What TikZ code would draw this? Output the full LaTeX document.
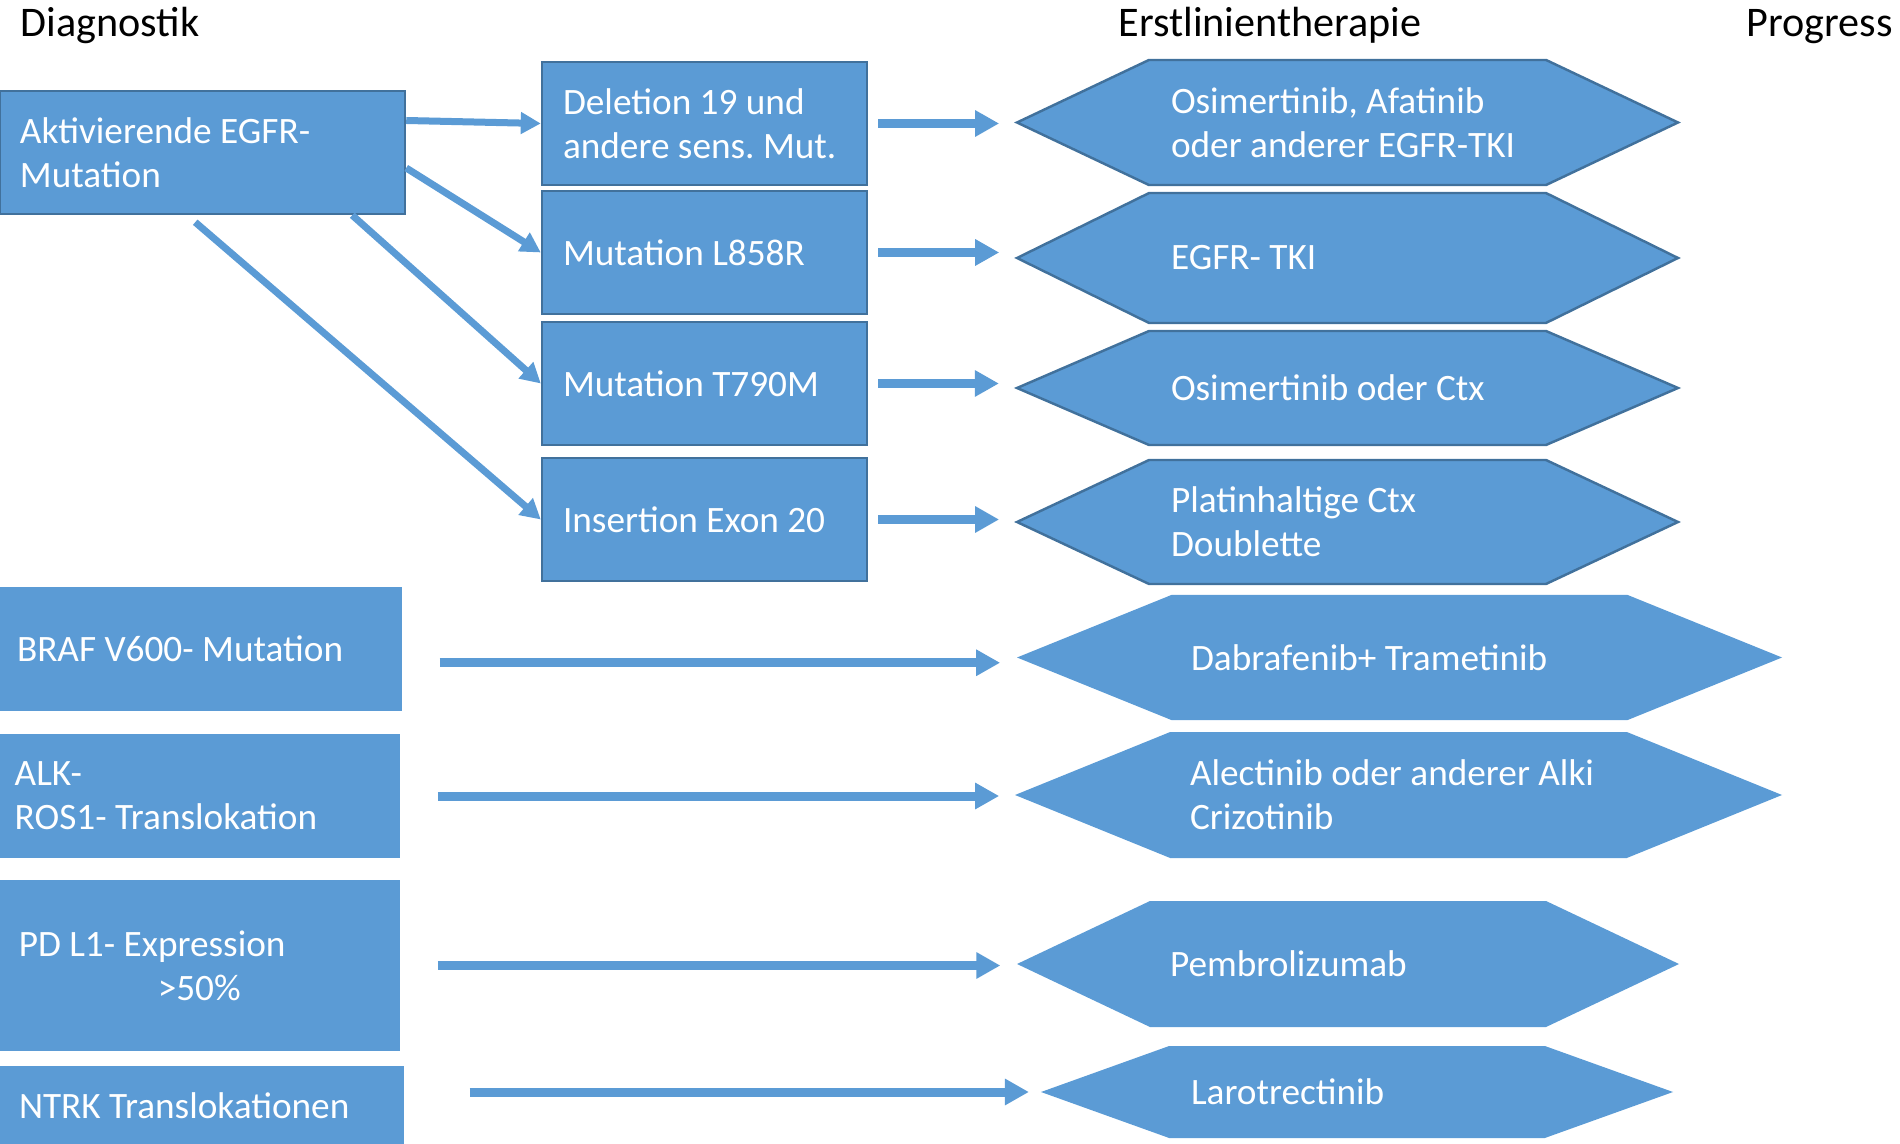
\documentclass[tikz,border=0pt]{standalone}
\usepackage{fontspec}
\setmainfont{Carlito}
\usepackage{tikz}
\usetikzlibrary{arrows.meta,shapes.symbols}
\definecolor{egfrblue}{HTML}{5B9BD5}
\definecolor{egfrline}{HTML}{41719C}
\frenchspacing

\begin{document}
\begin{tikzpicture}[->,>={Triangle[length=2.4mm,width=2.5mm]}]
      \tikzstyle{every node}=[text=white,font=\fontsize{10.6}{12.5}\selectfont,align=flush left]
      \tikzstyle{head}=[text=black,font=\fontsize{12}{14}\selectfont,anchor=base west,inner sep=0pt]
      \tikzstyle{egfr}=[rectangle,fill=egfrblue,draw=egfrline,line width=0.7pt,inner xsep=2mm]
      \tikzstyle{plain}=[rectangle,fill=egfrblue]
      \tikzstyle{therapie}=[shape=signal,signal to=west and east,fill=egfrblue,inner xsep=1mm]
      \tikzstyle{link}=[draw=egfrblue,line width=0.09cm]
      \tikzstyle{fork}=[draw=egfrblue,line width=0.07cm,-{Triangle[length=2mm,width=2.1mm]}]

      \clip (0,0) rectangle (19,-11.44);

      \node[head] (diag) at (0.2,-0.367) {Diagnostik};
      \node[head] (erst) at (11.18,-0.367) {Erstlinientherapie};
      \node[head] (prog) at (17.46,-0.367) {Progress};

      \node[egfr,minimum width=4.05cm,minimum height=1.23cm,text width=3.65cm] (akt) at (2.025,-1.525) {Aktivierende EGFR-\\Mutation};

      \node[egfr,minimum height=1.23cm,text width=2.83cm,inner xsep=2.1mm] (del) at (7.045,-1.235) {Deletion 19 und\\andere sens. Mut.};
      \node[egfr,minimum height=1.23cm,text width=2.83cm,inner xsep=2.1mm] (l858) at (7.045,-2.525) {Mutation L858R};
      \node[egfr,minimum height=1.23cm,text width=2.83cm,inner xsep=2.1mm] (t790) at (7.045,-3.835) {Mutation T790M};
      \node[egfr,minimum height=1.23cm,text width=2.83cm,inner xsep=2.1mm] (ins) at (7.045,-5.195) {Insertion Exon 20};

      \node[plain,minimum height=1.245cm,text width=3.68cm,inner xsep=1.7mm] (braf) at (2.01,-6.4875) {BRAF V600- Mutation};
      \node[plain,minimum height=1.24cm,text width=3.705cm,inner xsep=1.5mm] (alk) at (2.0,-7.96) {ALK-\\ROS1- Translokation};
      \node[plain,minimum height=1.71cm,text width=3.625cm,inner xsep=1.9mm] (pdl) at (2.0,-9.655) {PD L1- Expression\\\hspace*{1.39cm}>50\%};
      \node[plain,minimum height=0.8cm,text width=3.66cm,inner xsep=1.9mm] (ntrk) at (2.02,-11.06) {NTRK Translokationen};

      \node[therapie,draw=egfrline,line width=0.7pt,minimum width=6.61cm,minimum height=1.25cm,signal pointer angle=50.7,text width=3.53cm] (h1) at (13.475,-1.225) {Osimertinib, Afatinib\\oder anderer EGFR-TKI};
      \node[therapie,draw=egfrline,line width=0.7pt,minimum width=6.61cm,minimum height=1.30cm,signal pointer angle=52.4,text width=3.53cm] (h2) at (13.475,-2.58) {EGFR- TKI};
      \node[therapie,draw=egfrline,line width=0.7pt,minimum width=6.61cm,minimum height=1.14cm,signal pointer angle=46.7,text width=3.53cm] (h3) at (13.475,-3.88) {Osimertinib oder Ctx};
      \node[therapie,draw=egfrline,line width=0.7pt,minimum width=6.61cm,minimum height=1.24cm,signal pointer angle=50.3,text width=3.53cm] (h4) at (13.475,-5.22) {Platinhaltige Ctx\\Doublette};
      \node[therapie,minimum width=7.65cm,minimum height=1.25cm,signal pointer angle=44.1,text width=4.17cm] (h5) at (13.995,-6.575) {Dabrafenib+ Trametinib};
      \node[therapie,minimum width=7.67cm,minimum height=1.26cm,signal pointer angle=44.2,text width=4.17cm] (h6) at (13.985,-7.95) {Alectinib oder anderer Alki\\Crizotinib};
      \node[therapie,minimum width=6.62cm,minimum height=1.26cm,signal pointer angle=50.7,text width=3.56cm] (h7) at (13.48,-9.64) {Pembrolizumab};
      \node[therapie,minimum width=6.32cm,minimum height=0.92cm,signal pointer angle=39.5,text width=3.32cm] (h8) at (13.57,-10.92) {Larotrectinib};

      \draw[fork] ([yshift=3.2mm]akt.east) -- (del.west);
      \draw[fork] ([yshift=-1.55mm]akt.east) -- (l858.west);
      \draw[fork] ([xshift=-5.4mm]akt.south east) -- (t790.west);
      \draw[fork] ([xshift=-21.1mm,yshift=-0.7mm]akt.south east) -- (ins.west);

      \draw[link,shorten <=1mm,shorten >=1.5mm] (del.east) -- (del.east -| h1.west);
      \draw[link,shorten <=1mm,shorten >=1.5mm] (l858.east) -- (l858.east -| h2.west);
      \draw[link,shorten <=1mm,shorten >=1.5mm] (t790.east) -- (t790.east -| h3.west);
      \draw[link,shorten <=1mm,shorten >=1.5mm] (ins.east) -- (ins.east -| h4.west);

      \draw[link,shorten <=3.7mm,shorten >=1.5mm] ([yshift=-1.4mm]braf.east) -- ([yshift=-1.4mm]braf.east -| h5.west);
      \draw[link,shorten <=3.7mm,shorten >=1.4mm] (alk.east) -- (alk.east -| h6.west);
      \draw[link,shorten <=3.7mm,shorten >=1.5mm] (pdl.east) -- (pdl.east -| h7.west);
      \draw[link,shorten <=6.5mm,shorten >=1.0mm] (ntrk.east |- h8.west) -- (h8.west);

    \end{tikzpicture}
\end{document}
